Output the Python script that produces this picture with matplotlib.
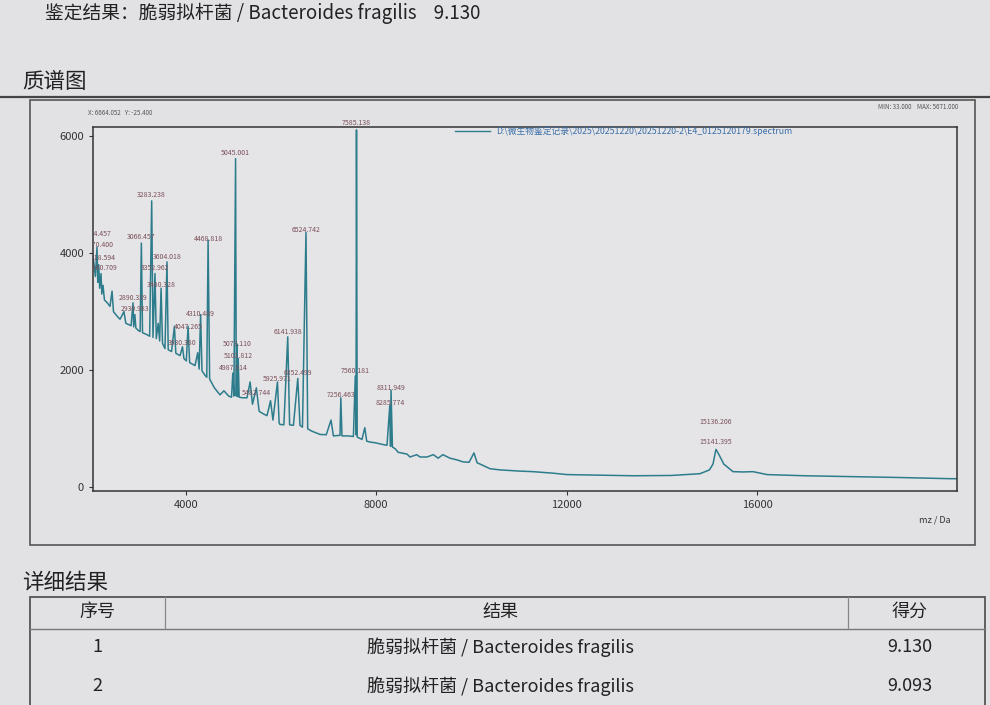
import matplotlib
matplotlib.use("Agg")
import matplotlib.pyplot as plt
from matplotlib.lines import Line2D
from matplotlib.patches import Rectangle

plt.rcParams['font.family'] = ['Noto Sans CJK SC', 'DejaVu Sans']

# spectrum (m/z, intensity)
mz = [2050, 2100, 2134, 2150, 2170, 2190, 2218, 2235, 2260, 2290, 2350, 2407, 2450, 2480,
      2560, 2617, 2700, 2740, 2800, 2850, 2890, 2905, 2930, 2950, 3000, 3040, 3066, 3090,
      3150, 3200, 3240, 3283, 3310, 3352, 3380, 3420, 3450, 3480, 3510, 3562, 3604, 3630,
      3700, 3760, 3790, 3878, 3930, 3960, 4010, 4047, 4080, 4150, 4193, 4250, 4280, 4310,
      4340, 4403, 4440, 4468, 4500, 4600, 4718, 4800, 4900, 4960, 4987, 5010, 5045, 5060,
      5073, 5088, 5101, 5120, 5200, 5285, 5350, 5400, 5482, 5540, 5620, 5705, 5780, 5830,
      5925, 5960, 5978, 6060, 6141, 6180, 6260, 6352, 6398, 6450, 6524, 6560, 6650, 6819,
      6950, 7050, 7100, 7239, 7256, 7280, 7400, 7520, 7560, 7575, 7585, 7600, 7700, 7760,
      7800, 7869, 8000, 8100, 8226, 8285, 8300, 8311, 8340, 8400, 8460, 8646, 8709, 8850,
      8919, 9066, 9200, 9300, 9400, 9549, 9700, 9823, 9950, 10053, 10120, 10180, 10390, 10600,
      11000, 11293, 11700, 12007, 12700, 13394, 14200, 14801, 15000, 15074, 15136, 15200, 15300, 15494,
      15700, 15915, 16209, 17000, 17953, 19000, 20054, 20200]
intensity = [3950, 3600, 4100, 3500, 3800, 3400, 3650, 3300, 3450, 3200, 3150, 3090, 3350, 3000,
             2920, 2870, 3000, 2800, 2780, 2760, 3150, 2740, 2950, 2720, 2680, 2660, 4170, 2640,
             2620, 2600, 2580, 4890, 2560, 3650, 2540, 2800, 2500, 3400, 2460, 2370, 3850, 2350,
             2320, 2750, 2290, 2250, 2400, 2200, 2160, 2750, 2130, 2100, 2080, 2300, 2020, 2950,
             1990, 1915, 1880, 4220, 1850, 1700, 1580, 1650, 1560, 1540, 1950, 1560, 5610, 1560,
             2450, 1550, 2200, 1540, 1530, 1530, 1800, 1420, 1700, 1300, 1260, 1225, 1480, 1150,
             1800, 1100, 1075, 1070, 2570, 1070, 1060, 1860, 1060, 1030, 4350, 1000, 960, 905,
             900, 1150, 880, 890, 1530, 880, 880, 870, 1900, 900, 6100, 860, 820, 1020,
             790, 775, 760, 740, 720, 1400, 700, 1660, 690, 660, 600, 570, 520, 560,
             520, 520, 560, 500, 560, 500, 470, 437, 430, 590, 420, 400, 320, 300,
             280, 270, 245, 220, 210, 200, 205, 235, 300, 400, 650, 560, 400, 270,
             265, 270, 220, 200, 185, 170, 150, 150]

# peak labels and the height they are printed at
peak_labels = ["2134.457", "2170.400", "2218.594", "2260.709", "2890.339", "2930.983",
               "3066.457", "3283.238", "3352.962", "3480.328", "3604.018", "3930.380",
               "4047.265", "4310.489", "4468.818", "4987.914", "5045.001", "5073.110",
               "5101.812", "5482.744", "5925.971", "6141.938", "6352.499", "6524.742",
               "7256.463", "7560.181", "7585.138", "8285.774", "8311.949", "15136.206",
               "15141.395"]
label_y = [4330, 4130, 3910, 3750, 3240, 3040,
           4267, 4990, 3750, 3460, 3930, 2470,
           2740, 2960, 4233, 2040, 5710, 2450,
           2250, 1620, 1850, 2660, 1960, 4400,
           1580, 1990, 6210, 1445, 1700, 1125,
           770]

x_ticks = [4000, 8000, 12000, 16000]
y_ticks = [0, 2000, 4000, 6000]

bg = "#e2e2e5"
line_col = "#2d7c8c"
lab_col = "#7a4f58"
W, H = 990, 705


def fx(x):
    return x / W


def fy(y):
    return 1 - y / H


fig = plt.figure(figsize=(9.9, 7.05), dpi=100, facecolor=bg)

# header texts
fig.text(fx(45), fy(13), "鉴定结果：脆弱拟杆菌 / Bacteroides fragilis    9.130",
         fontsize=13.5, color="#222222", va="center", ha="left")
fig.text(fx(22), fy(82), "质谱图", fontsize=15.5, color="#222222", va="center", ha="left")
fig.add_artist(Line2D([0, 1], [fy(97), fy(97)], color="#444444", lw=1.6))

# chart panel
fig.add_artist(Rectangle((fx(30), fy(545)), fx(975) - fx(30), fy(100) - fy(545),
                         fill=False, edgecolor="#555555", lw=1.2))

ax = fig.add_axes([fx(93), fy(491), fx(957) - fx(93), fy(127) - fy(491)])
ax.set_facecolor("#e5e5e8")
ax.plot(mz, intensity, color=line_col, lw=1.1)
for t, yv in zip(peak_labels, label_y):
    # labels at the far left get cut by the axis, as on screen
    ax.text(float(t), yv, t, ha="center", va="center", fontsize=5,
            color=lab_col, clip_on=float(t) < 2300)

ax.set_xlim(2050, 20200)
ax.set_ylim(-60, 6150)
ax.set_xticks(x_ticks)
ax.set_yticks(y_ticks)
ax.tick_params(labelsize=8, colors="#333333", length=3, width=0.8)
for s in ax.spines.values():
    s.set_color("#333333")
    s.set_linewidth(1.1)

# small readouts and legend
fig.text(fx(88), fy(113), "X: 6664.052   Y: -25.400", fontsize=4.5, color="#555555",
         va="center", ha="left")
fig.text(fx(958), fy(107), "MIN: 33.000    MAX: 5671.000", fontsize=4.5, color="#555555",
         va="center", ha="right")
fig.add_artist(Line2D([fx(455), fx(490)], [fy(131), fy(131)], color=line_col, lw=1))
fig.text(fx(496), fy(131), "D:\\微生物鉴定记录\\2025\\20251220\\20251220-2\\E4_0125120179.spectrum",
         fontsize=6.3, color="#3a6fa8", va="center", ha="left")
fig.text(fx(935), fy(520), "mz / Da", fontsize=6.5, color="#333333", va="center", ha="center")

# detail table
fig.text(fx(22), fy(583), "详细结果", fontsize=15.5, color="#222222", va="center", ha="left")
fig.add_artist(Rectangle((fx(30), fy(720)), fx(985) - fx(30), fy(597) - fy(720),
                         fill=False, edgecolor="#555555", lw=1.3))
fig.add_artist(Line2D([fx(30), fx(985)], [fy(629), fy(629)], color="#777777", lw=1))
for cx in [165, 848]:
    fig.add_artist(Line2D([fx(cx), fx(cx)], [fy(597), fy(629)], color="#888888", lw=0.9))

headers = ["序号", "结果", "得分"]
col_x = [97, 500, 910]
rows = [["1", "脆弱拟杆菌 / Bacteroides fragilis", "9.130"],
        ["2", "脆弱拟杆菌 / Bacteroides fragilis", "9.093"]]
row_y = [647, 686]
for h, cx in zip(headers, col_x):
    fig.text(fx(cx), fy(612), h, fontsize=13, color="#222222", va="center", ha="center")
for r, ry in zip(rows, row_y):
    for v, cx in zip(r, col_x):
        fig.text(fx(cx), fy(ry), v, fontsize=13, color="#222222", va="center", ha="center")

fig.savefig("out.png", dpi=100, facecolor=bg)
